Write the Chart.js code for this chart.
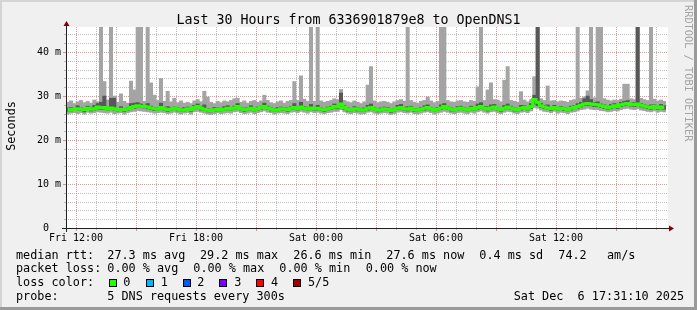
<!DOCTYPE html>
<html>
<head>
<meta charset="utf-8">
<script src="https://cdn.jsdelivr.net/npm/chart.js@4.4.1/dist/chart.umd.min.js"></script>
<style>
  body { margin: 0; background: #f0f0f0; }
  canvas { display: block; }
</style>
</head>
<body>
<canvas id="chart" width="697" height="310"></canvas>
<script>
// time range in hours counted from Fri 00:00, 10 minute steps
const startHour = 11.5;
const endHour = 41.5;

// smoke: sorted pings per step (ms)
const pingMin = [
  25.9,26.1,26.2,26.0,26.2,25.9,26.3,26.1,26.2,26.4,26.3,26.2,
  26.1,26.3,26.0,26.1,26.2,25.9,26.2,26.4,26.5,26.7,26.6,26.5,
  26.4,26.3,26.1,26.2,26.3,26.2,26.0,26.1,26.3,26.1,25.9,26.1,
  26.2,25.9,26.4,26.5,26.3,26.1,25.9,25.8,26.0,26.2,26.0,26.1,
  26.2,26.1,26.4,26.5,26.2,26.0,26.1,26.3,26.0,26.2,26.4,26.6,
  26.3,26.2,25.9,26.1,26.2,26.1,26.0,26.3,26.4,26.2,26.5,26.3,
  26.1,26.4,26.2,26.3,26.1,26.0,26.2,26.3,26.5,26.5,26.9,26.4,
  26.1,26.0,26.2,26.1,25.9,26.0,26.3,26.4,26.1,25.9,26.1,26.2,
  26.1,25.8,26.0,26.3,26.4,26.2,26.1,26.3,26.0,25.9,26.1,26.3,
  26.4,26.2,25.9,26.1,26.3,26.5,26.3,26.1,26.0,26.2,26.3,26.1,
  26.0,26.3,26.1,26.4,26.6,26.3,26.1,26.4,26.5,26.2,26.0,26.3,
  26.5,26.4,26.1,26.0,26.3,26.4,26.2,26.6,27.4,27.2,26.8,26.5,
  26.4,26.2,26.5,26.1,26.3,26.2,26.0,26.3,26.4,26.6,26.9,27.0,
  27.2,27.0,26.9,26.9,26.7,26.6,26.4,26.5,26.7,26.6,26.9,27.1,
  27.2,27.0,26.9,27.1,26.8,26.7,26.5,26.4,26.6,26.3,26.5,26.4
];
const pingLow = [
  26.5,26.6,26.7,26.7,26.7,26.4,26.9,26.6,26.8,27.0,26.9,27.0,
  26.7,26.9,26.8,26.6,26.7,26.5,26.8,27.1,27.2,27.4,27.4,27.3,
  27.1,26.9,26.7,26.7,27.0,26.8,26.5,26.7,26.9,26.6,26.5,26.6,
  26.8,26.5,27.1,27.2,26.8,26.7,26.4,26.4,26.6,26.6,26.5,26.7,
  26.8,26.7,27.0,27.2,26.8,26.5,26.7,26.8,26.6,26.8,27.0,27.3,
  27.0,26.6,26.5,26.6,26.7,26.7,26.5,26.9,27.0,26.8,27.1,26.9,
  26.7,26.9,26.8,26.8,26.7,26.5,26.8,26.9,27.2,27.1,27.5,27.0,
  26.6,26.6,26.8,26.6,26.5,26.6,26.8,27.0,26.7,26.4,26.6,26.8,
  26.7,26.3,26.6,26.9,27.0,26.8,26.6,27.0,26.5,26.5,26.7,26.8,
  27.0,26.8,26.5,26.7,26.9,27.2,26.9,26.6,26.6,26.8,26.9,26.7,
  26.6,26.8,26.7,27.0,27.2,26.9,26.6,27.0,27.1,26.8,26.5,26.9,
  27.1,27.0,26.6,26.6,26.8,27.1,26.8,27.2,28.2,27.8,27.4,27.1,
  27.0,26.7,27.0,26.7,26.9,26.7,26.6,26.8,27.1,27.2,27.5,27.8,
  27.8,27.8,27.6,27.6,27.4,27.2,26.9,27.1,27.4,27.2,27.6,27.8,
  27.9,27.7,27.6,27.8,27.5,27.3,27.1,27.0,27.2,26.9,27.1,27.0
];
const medianRtt = [
  26.8,27.0,26.9,27.1,27.0,26.9,27.2,27.0,27.1,27.5,27.3,27.4,
  27.0,27.3,27.1,26.9,27.0,26.9,27.1,27.4,27.6,27.8,27.7,27.6,
  27.5,27.3,27.1,27.0,27.4,27.1,26.9,27.0,27.2,27.0,26.8,26.9,
  27.1,26.9,27.4,27.6,27.2,27.0,26.8,26.7,26.9,27.0,26.8,27.0,
  27.2,27.0,27.3,27.6,27.1,26.9,27.0,27.2,26.9,27.1,27.4,27.6,
  27.3,27.0,26.8,26.9,27.1,27.0,26.9,27.2,27.4,27.1,27.5,27.2,
  27.0,27.3,27.1,27.2,27.0,26.9,27.1,27.3,27.6,27.5,28.2,27.4,
  27.0,26.9,27.1,27.0,26.8,26.9,27.2,27.4,27.0,26.8,26.9,27.1,
  27.0,26.7,26.9,27.2,27.4,27.1,27.0,27.3,26.9,26.8,27.0,27.2,
  27.4,27.1,26.8,27.0,27.3,27.6,27.2,27.0,26.9,27.1,27.3,27.0,
  26.9,27.2,27.0,27.4,27.6,27.2,27.0,27.3,27.5,27.1,26.9,27.2,
  27.5,27.3,27.0,26.9,27.2,27.4,27.1,27.6,29.2,28.6,27.8,27.5,
  27.3,27.1,27.4,27.0,27.2,27.1,26.9,27.2,27.4,27.6,27.9,28.2,
  28.3,28.2,28.1,28.0,27.8,27.6,27.3,27.5,27.8,27.6,28.0,28.2,
  28.3,28.1,28.0,28.2,27.9,27.7,27.5,27.4,27.6,27.3,27.5,27.4
];
const pingHigh = [
  27.3,27.4,27.2,27.8,27.3,27.2,27.7,27.3,27.9,28.3,28.6,30.0,
  27.3,29.5,29.5,27.2,27.6,27.2,27.4,28.3,28.4,28.5,28.2,27.9,
  28.3,27.7,27.4,27.3,28.4,27.4,27.6,27.3,27.5,27.3,27.1,27.4,
  27.5,27.2,27.9,28.2,27.5,28.0,27.1,27.0,27.4,27.3,27.1,27.6,
  27.8,27.3,27.7,28.3,27.4,27.3,27.3,27.8,27.2,27.5,27.7,28.4,
  27.7,27.3,27.1,27.4,27.5,27.3,27.3,27.6,28.3,27.5,28.6,27.6,
  27.4,28.1,27.4,27.9,27.3,27.2,27.5,27.7,28.2,27.9,30.7,27.8,
  27.3,27.2,27.6,27.3,27.1,27.3,27.9,28.2,27.3,27.1,27.3,27.5,
  27.4,27.0,27.2,27.9,28.1,27.4,27.6,27.7,27.2,27.1,27.4,27.8,
  28.0,27.4,27.1,27.4,28.0,28.3,27.5,27.3,27.2,27.6,27.7,27.3,
  27.2,27.7,27.3,28.2,28.5,27.6,27.6,28.0,28.1,27.4,27.2,27.9,
  28.2,27.7,27.3,27.2,27.9,27.8,27.4,28.3,30.2,55,28.3,27.9,
  28.0,27.4,27.9,27.3,27.6,27.4,27.2,27.7,27.8,28.3,28.6,29.4,
  30.0,29.2,28.5,28.7,28.2,28.0,27.6,28.1,28.3,27.9,28.6,28.8,
  29.0,28.4,28.5,55,28.3,28.0,27.8,28.0,28.0,27.6,28.1,27.8
];
const pingMax = [
  28.6,28.9,28.3,28.7,29.0,28.5,28.8,28.4,29.1,28.7,55,33.3,
  29.1,55,30.0,28.6,30.5,28.8,28.4,33.4,31.4,55,55,28.8,
  55,33.0,30.2,29.0,34.0,28.8,31.1,28.7,29.5,28.5,28.9,28.4,
  28.6,28.3,28.9,29.2,28.7,31.1,29.8,28.6,28.3,28.8,28.5,28.9,
  28.7,29.0,29.4,29.5,28.6,28.9,28.4,28.8,29.0,28.6,28.9,30.2,
  29.0,28.5,28.3,28.7,28.9,28.4,28.8,29.0,33.3,29.0,34.6,29.3,
  28.8,55,28.8,55,28.9,28.6,28.8,29.0,29.4,29.2,31.5,29.0,
  28.7,28.5,28.9,28.6,28.3,28.7,32.5,36.7,28.9,28.5,28.7,28.8,
  28.6,28.3,28.7,29.0,29.2,28.8,55,29.0,28.6,28.4,28.8,29.0,
  29.8,28.9,28.5,28.8,55,55,29.0,28.7,28.6,28.9,29.0,28.7,
  28.6,29.0,28.8,32.1,55,29.0,31.4,33.0,29.2,29.1,28.7,33.6,
  36.7,29.0,28.8,28.6,31.0,29.1,28.7,29.2,34.4,55,29.4,29.0,
  32.3,28.9,29.0,28.7,28.9,28.8,28.6,29.0,29.2,55,29.5,29.8,
  31.2,55,29.6,55,55,29.4,29.1,28.9,29.1,29.0,29.3,32.7,
  32.7,29.4,29.2,55,29.5,29.2,29.0,55,29.3,28.9,29.1,28.8
];

const xTickHours = [12, 18, 24, 30, 36];
const xTickLabels = ['Fri 12:00', 'Fri 18:00', 'Sat 00:00', 'Sat 06:00', 'Sat 12:00'];
const yTicks = [0, 10, 20, 30, 40];
const yTickLabels = ['0  ', '10 m', '20 m', '30 m', '40 m'];

const lossColors = ['#26ff00', '#00b8ff', '#0059ff', '#7e00ff', '#ff0000', '#a10000'];
const lossLabels = ['0', '1', '2', '3', '4', '5/5'];

const titleText = 'Last 30 Hours from 6336901879e8 to OpenDNS1';
const rttStats = ['27.3 ms avg', '29.2 ms max', '26.6 ms min', '27.6 ms now', '0.4 ms sd', '74.2', 'am/s'];
const lossStats = ['0.00 % avg', '0.00 % max', '0.00 % min', '0.00 % now'];
const probeText = '5 DNS requests every 300s';
const stampText = 'Sat Dec  6 17:31:10 2025';

const steps = medianRtt.map((v, i) => i);
const mono = '"DejaVu Sans Mono", monospace';

const frame = {
  id: 'frame',
  beforeDraw(chart) {
    const ctx = chart.ctx;
    const a = chart.chartArea;
    ctx.save();
    ctx.fillStyle = '#f0f0f0';
    ctx.fillRect(0, 0, chart.width, chart.height);
    ctx.fillStyle = '#d4d4d4';
    ctx.fillRect(0, 0, chart.width, 2);
    ctx.fillRect(0, 0, 2, chart.height);
    ctx.fillStyle = '#9a9a9a';
    ctx.fillRect(chart.width - 3, 0, 3, chart.height);
    ctx.fillRect(0, chart.height - 3, chart.width, 3);
    ctx.fillStyle = '#ffffff';
    ctx.fillRect(a.left, a.top, a.right - a.left + 2, a.bottom - a.top);
    ctx.restore();
  },
  beforeDatasetsDraw(chart) {
    const ctx = chart.ctx;
    const a = chart.chartArea;
    const xs = chart.scales.xt;
    const ys = chart.scales.y;
    const minor = 'rgba(140,140,140,0.55)';
    const major = 'rgba(215,60,60,0.55)';
    ctx.save();
    ctx.lineWidth = 1;
    // vertical grid, every hour, major every 3 hours
    for (let h = 12; h < endHour; h++) {
      const px = Math.round(xs.getPixelForValue(h)) + 0.5;
      ctx.strokeStyle = h % 3 === 0 ? major : minor;
      ctx.setLineDash([1, 1]);
      ctx.beginPath();
      ctx.moveTo(px, a.bottom);
      ctx.lineTo(px, a.top);
      ctx.stroke();
      ctx.setLineDash([]);
      ctx.beginPath();
      ctx.moveTo(px, a.bottom);
      ctx.lineTo(px, a.bottom + (h % 3 === 0 ? 3 : 2));
      ctx.stroke();
    }
    // horizontal grid, every 2 ms, major every 10 ms
    for (let v = 2; v < ys.max; v += 2) {
      const py = Math.round(ys.getPixelForValue(v)) + 0.5;
      ctx.strokeStyle = v % 10 === 0 ? major : minor;
      ctx.setLineDash([1, 1]);
      ctx.beginPath();
      ctx.moveTo(a.left, py);
      ctx.lineTo(a.right + 2, py);
      ctx.stroke();
      ctx.setLineDash([]);
      ctx.beginPath();
      ctx.moveTo(a.left - (v % 10 === 0 ? 3 : 2), py);
      ctx.lineTo(a.left, py);
      ctx.stroke();
    }
    ctx.restore();
  },
  afterDraw(chart) {
    const ctx = chart.ctx;
    const a = chart.chartArea;
    ctx.save();
    // axes
    ctx.strokeStyle = '#202020';
    ctx.lineWidth = 1;
    ctx.beginPath();
    ctx.moveTo(a.left - 4, a.bottom + 0.5);
    ctx.lineTo(a.right + 4, a.bottom + 0.5);
    ctx.moveTo(a.left + 0.5, a.bottom + 4);
    ctx.lineTo(a.left + 0.5, a.top - 4);
    ctx.stroke();
    ctx.fillStyle = '#800000';
    ctx.beginPath();
    ctx.moveTo(a.left - 2.5, a.top - 1);
    ctx.lineTo(a.left + 3.5, a.top - 1);
    ctx.lineTo(a.left + 0.5, a.top - 6);
    ctx.closePath();
    ctx.fill();
    ctx.beginPath();
    ctx.moveTo(a.right + 3, a.bottom - 2.5);
    ctx.lineTo(a.right + 3, a.bottom + 3.5);
    ctx.lineTo(a.right + 8, a.bottom + 0.5);
    ctx.closePath();
    ctx.fill();

    // title and axis name
    ctx.fillStyle = '#000';
    ctx.font = '13.3px ' + mono;
    ctx.textAlign = 'center';
    ctx.textBaseline = 'alphabetic';
    ctx.fillText(titleText, chart.width / 2, 24);
    ctx.save();
    ctx.font = '11.8px ' + mono;
    ctx.translate(14.5, 126);
    ctx.rotate(-Math.PI / 2);
    ctx.fillText('Seconds', 0, 0);
    ctx.restore();

    ctx.save();
    ctx.fillStyle = '#a4a4a4';
    ctx.font = '10.3px ' + mono;
    ctx.textAlign = 'left';
    ctx.translate(685, 5);
    ctx.rotate(Math.PI / 2);
    ctx.fillText('RRDTOOL / TOBI OETIKER', 0, 0);
    ctx.restore();

    // legend block
    ctx.font = '11.8px ' + mono;
    ctx.textAlign = 'left';
    const rttX = [107.3, 200, 293.3, 386.3, 479.3, 558.3, 607];
    ctx.fillText('median rtt:', 16, 258.5);
    rttStats.forEach((s, i) => ctx.fillText(s, rttX[i], 258.5));
    const lossX = [107.3, 193.3, 279.3, 365.7];
    ctx.fillText('packet loss:', 16, 272.4);
    lossStats.forEach((s, i) => ctx.fillText(s, lossX[i], 272.4));
    ctx.fillText('loss color:', 16, 286.3);
    const boxX = [109, 146, 183, 219, 256, 293];
    const labX = [123.3, 160.7, 197.3, 234.3, 271, 308];
    lossColors.forEach((c, i) => {
      ctx.fillStyle = c;
      ctx.fillRect(boxX[i], 279, 8, 8);
      ctx.strokeStyle = '#000';
      ctx.strokeRect(boxX[i] + 0.5, 279.5, 7, 7);
      ctx.fillStyle = '#000';
      ctx.fillText(lossLabels[i], labX[i], 286.3);
    });
    ctx.fillText('probe:', 16, 300.2);
    ctx.fillText(probeText, 107.3, 300.2);
    ctx.fillText(stampText, 513.7, 300.2);
    ctx.restore();
  }
};

new Chart(document.getElementById('chart'), {
  type: 'bar',
  data: {
    labels: steps,
    datasets: [
      {
        type: 'line',
        label: 'median rtt',
        data: medianRtt,
        borderColor: lossColors[0],
        borderWidth: 3,
        pointRadius: 0,
        stepped: 'middle',
        order: 0,
        clip: 0,
        xAxisID: 'x',
        yAxisID: 'y'
      },
      {
        label: 'smoke inner',
        data: pingLow.map((v, i) => [v, pingHigh[i]]),
        backgroundColor: '#585858',
        order: 1,
        clip: 0,
        xAxisID: 'x',
        yAxisID: 'y'
      },
      {
        label: 'smoke outer',
        data: pingMin.map((v, i) => [v, pingMax[i]]),
        backgroundColor: '#a4a4a4',
        order: 2,
        clip: 0,
        xAxisID: 'x',
        yAxisID: 'y'
      }
    ]
  },
  options: {
    responsive: false,
    animation: false,
    devicePixelRatio: 1,
    layout: { padding: { top: 27, right: 31, left: 0, bottom: 0 } },
    plugins: { legend: { display: false }, tooltip: { enabled: false } },
    datasets: {
      bar: { grouped: false, barPercentage: 1, categoryPercentage: 1, borderWidth: 0 }
    },
    scales: {
      x: { type: 'category', display: false, offset: true },
      xt: {
        type: 'linear',
        axis: 'x',
        position: 'bottom',
        offset: false,
        min: startHour,
        max: endHour,
        afterBuildTicks(s) { s.ticks = xTickHours.map(v => ({ value: v })); },
        afterFit(s) { s.height = 82; },
        grid: { display: false, drawTicks: false, offset: false },
        border: { display: false },
        ticks: {
          autoSkip: false,
          maxRotation: 0,
          padding: 4,
          color: '#000',
          font: { family: mono, size: 10 },
          callback: v => xTickLabels[xTickHours.indexOf(v)]
        }
      },
      y: {
        type: 'linear',
        position: 'left',
        min: 0,
        max: 45.7,
        afterBuildTicks(s) { s.ticks = yTicks.map(v => ({ value: v })); },
        afterFit(s) { s.width = 66; },
        grid: { display: false, drawTicks: false },
        border: { display: false },
        ticks: {
          autoSkip: false,
          padding: 5,
          color: '#000',
          font: { family: mono, size: 10 },
          callback: v => yTickLabels[yTicks.indexOf(v)]
        }
      }
    }
  },
  plugins: [frame]
});
</script>
</body>
</html>
